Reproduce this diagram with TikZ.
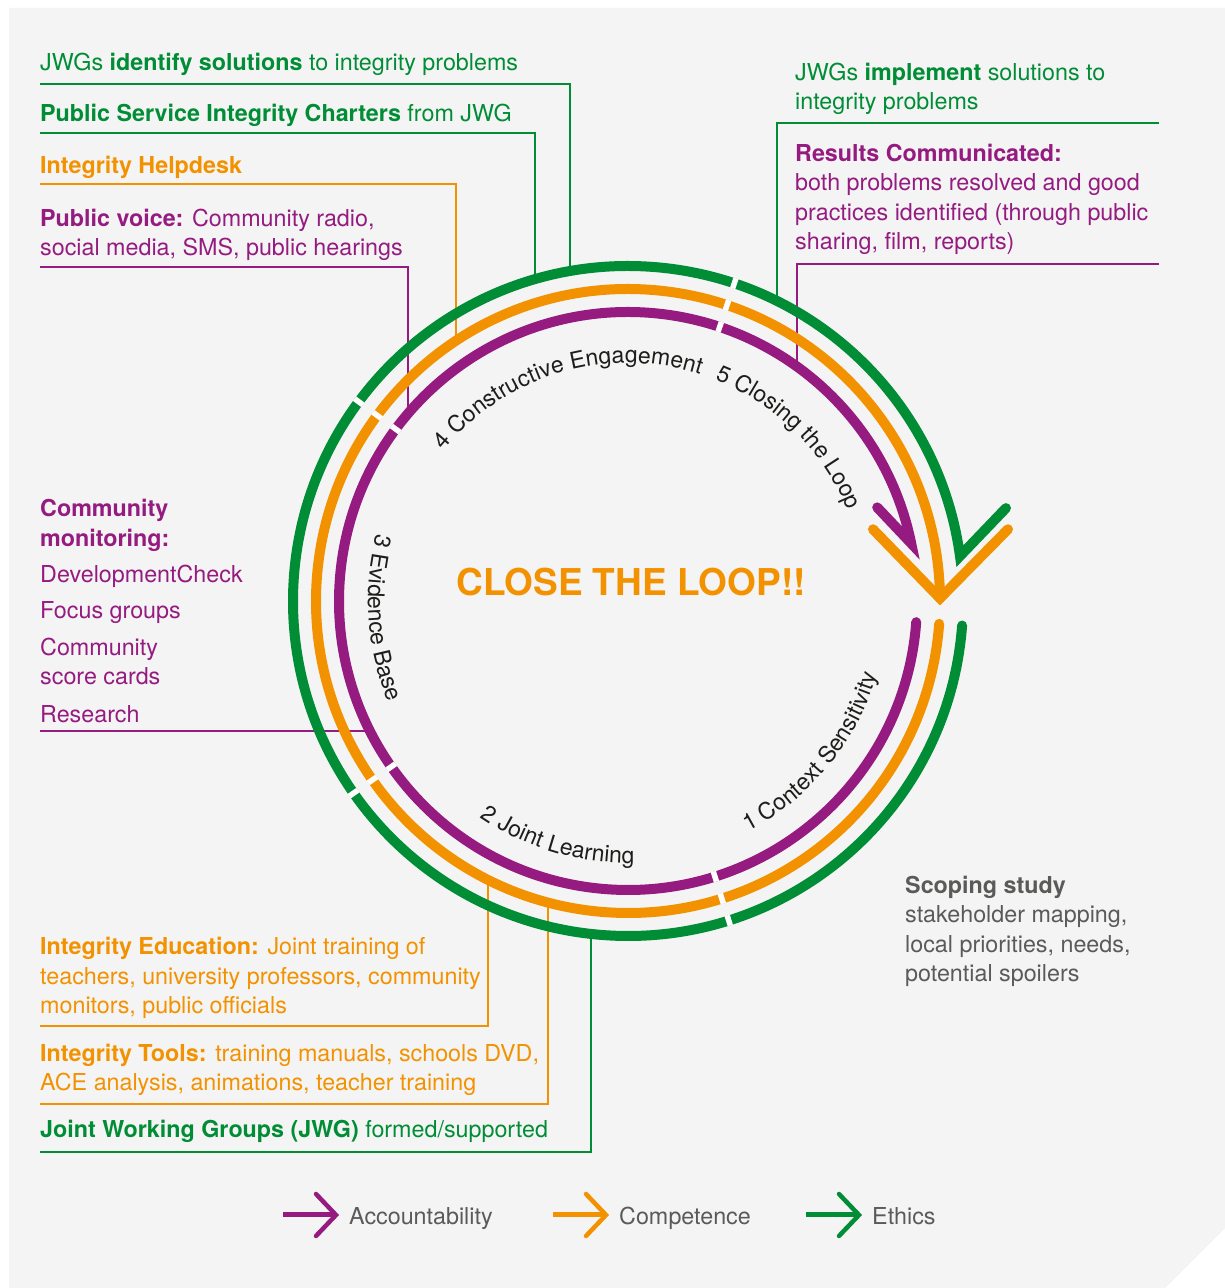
\documentclass[tikz,border=0pt]{standalone}
\usepackage{fontspec}
\setmainfont{TeX Gyre Heros}
\usetikzlibrary{decorations.text}

\definecolor{acc}{HTML}{951B81}
\definecolor{comp}{HTML}{F39200}
\definecolor{eth}{HTML}{008D36}
\definecolor{ink}{HTML}{1D1D1B}
\definecolor{slate}{HTML}{5A5A59}
\definecolor{panel}{HTML}{F4F4F4}

\newcommand{\bodyfont}{\fontsize{23.3}{29.5}\selectfont}
\newcommand{\pathfont}{\fontsize{23}{28}\selectfont}

\begin{document}
\begin{tikzpicture}[x=1pt, y=1pt,
    every node/.style={inner sep=0pt, anchor=base west, align=left, font=\bodyfont},
    wire/.style={line width=1.6pt},
    ring/.style={line width=10pt, line cap=round},
    gap/.style={white, line width=5.5pt},
    key/.style={line width=5pt},
    steplabel/.style={decorate, decoration={text along path, text align=center,
        text color=ink, text={|\pathfont|#1}}}]
\useasboundingbox (0,0) rectangle (1225,1288);
\fill[white] (0,0) rectangle (1225,1288);
\fill[panel] (9,0) -- (9,1280) -- (1225,1280) -- (1225,60) -- (1165,0) -- cycle;

\node[text=eth] (g_1) at (40,1217) {JWGs \textbf{identify solutions} to integrity problems};
\node[text=eth] (g_2) at (40,1166) {\textbf{Public Service Integrity Charters} from JWG};
\node[text=comp] (o_1) at (40,1114) {\textbf{Integrity Helpdesk}};
\node[text=acc] (p_1) at (40,1032) {\textbf{Public voice:} Community radio,\\social media, SMS, public hearings};
\node[text=eth] (g_4) at (795,1178) {JWGs \textbf{implement} solutions to\\integrity problems};
\node[text=acc] (p_2) at (795,1038) {\textbf{Results Communicated:}\\both problems resolved and good\\practices identified (through public\\sharing, film, reports)};
\node[text=acc] (p_3) at (40,565) {\textbf{Community}\\\textbf{monitoring:}\\[6.5pt]DevelopmentCheck\\[6.5pt]Focus groups\\[7.5pt]Community\\score cards\\[8.5pt]Research};
\node[text=comp] (o_2) at (40,274) {\textbf{Integrity Education:} Joint training of\\teachers, university professors, community\\monitors, public officials};
\node[text=comp] (o_3) at (40,197) {\textbf{Integrity Tools:} training manuals, schools DVD,\\ACE analysis, animations, teacher training};
\node[text=eth] (g_3) at (40,150) {\textbf{Joint Working Groups (JWG)} formed/supported};
\node[text=slate] (s_1) at (905,306) {\textbf{Scoping study}\\stakeholder mapping,\\local priorities, needs,\\potential spoilers};
\node[text=comp, anchor=base, font=\fontsize{37}{40}\selectfont\bfseries] (loop) at (631,692) {CLOSE THE LOOP!!};

\coordinate (rg_1) at (570,1017);
\coordinate (rg_2) at (535,1009);
\coordinate (rg_3) at (591,354);
\coordinate (rg_4) at (777,987);
\coordinate (ro_1) at (456,947);
\coordinate (ro_2) at (488,408);
\coordinate (ro_3) at (548,385);
\coordinate (rp_1) at (408,874);
\coordinate (rp_2) at (797,921);
\coordinate (rp_3) at (370,557);

\draw[wire, eth] (g_1.base west) ++(0,-13) -| (rg_1);
\draw[wire, eth] (g_2.base west) ++(0,-11) -| (rg_2);
\draw[wire, eth] (g_3.base west) ++(0,-14) -| (rg_3);
\draw[wire, eth] (g_4.base west) ++(364,-13) -| (rg_4);
\draw[wire, comp] (o_1.base west) ++(0,-10) -| (ro_1);
\draw[wire, comp] (o_2.base west) ++(0,-12) -| (ro_2);
\draw[wire, comp] (o_3.base west) ++(0,-13) -| (ro_3);
\draw[wire, acc] (p_1.base west) ++(0,-11) -| (rp_1);
\draw[wire, acc] (p_2.base west) ++(364,-14) -| (rp_2);
\draw[wire, acc] (p_3.base west) ++(0,-8) -- (rp_3);

\begin{scope}[shift={(628,687)}]
  \draw[ring, eth] (-4.2:335pt) arc[start angle=-4.2, end angle=-352.3, radius=335pt] -- ++(46,48);
  \draw[ring, acc] (-4.2:289pt) arc[start angle=-4.2, end angle=-348.5, radius=289pt] -- ++(-34,36);
  \draw[ring, comp] (-4.2:312pt) arc[start angle=-4.2, end angle=-359.5, radius=312pt] coordinate (o_tip);
  \draw[ring, comp] (o_tip) ++(-67,69) -- (o_tip) -- ++(68,69);
  \foreach \a in {71.5, 143.5, 215, 287.5}
    \foreach \r in {289, 312, 335}
      \draw[gap] (\a:\r-5.2) -- (\a:\r+5.2);

  \path[steplabel={4 Constructive Engagement}] (166.5:238pt) arc[start angle=166.5, end angle=46.5, radius=238pt];
  \path[steplabel={5 Closing the Loop}] (105.5:238pt) arc[start angle=105.5, end angle=-14.5, radius=238pt];
  \path[steplabel={3 Evidence Base}] (124:260pt) arc[start angle=124, end angle=244, radius=260pt];
  \path[steplabel={2 Joint Learning}] (193.5:262pt) arc[start angle=193.5, end angle=313.5, radius=262pt];
  \path[steplabel={1 Context Sensitivity}] (260.5:260pt) arc[start angle=260.5, end angle=380.5, radius=260pt];
\end{scope}

\foreach \x/\y/\c/\t [count=\i] in {283/73/acc/Accountability, 553/73/comp/Competence, 806/73/eth/Ethics} {
  \draw[key, \c] (\x,\y) -- ++(51,0);
  \draw[\c, line width=4.5pt, line cap=round] (\x+33,\y+21) -- (\x+53,\y) -- (\x+33,\y-21);
  \node[text=slate] (k_\i) at (\x+66,\y-10) {\t};
}
\end{tikzpicture}
\end{document}
